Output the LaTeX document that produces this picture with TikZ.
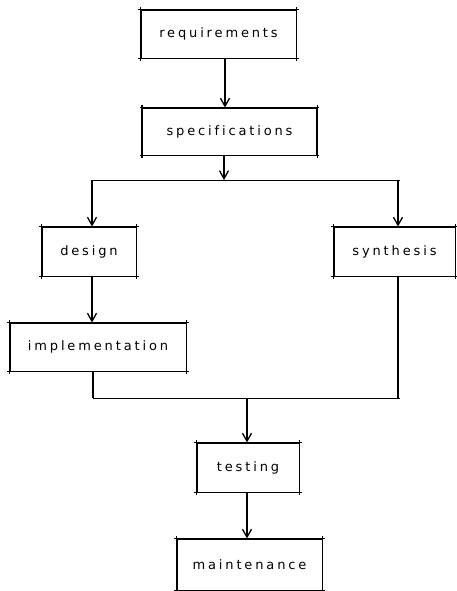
\documentclass[tikz,border=0pt]{standalone}
\usepackage{fontspec}
\newfontfamily\plotfont[LetterSpace=22,Ligatures=NoCommon]{DejaVu Sans}
\usetikzlibrary{arrows.meta}
\tikzset{
  stage/.style={draw, line width=0.9pt, inner sep=0pt, font=\plotfont\fontsize{13}{15}\selectfont},
  arr/.style={line width=1.3pt, -{Straight Barb[length=8pt,width=9pt,line width=1.3pt]}},
  link/.style={line width=1.2pt},
  bus/.style={line width=0.8pt}
}
\newcommand{\corners}[1]{%
  \draw[line width=0.8pt] ([xshift=-2.5pt]#1.north west) -- ([xshift=2.5pt]#1.north east);
  \draw[line width=0.8pt] ([xshift=-2.5pt]#1.south west) -- ([xshift=2.5pt]#1.south east);
  \draw[line width=1.3pt] ([yshift=2.5pt]#1.north west) -- ([yshift=-2.5pt]#1.south west);
  \draw[line width=0.8pt] ([yshift=2.5pt]#1.north east) -- ([yshift=-2.5pt]#1.south east);
}
\begin{document}
\begin{tikzpicture}[x=1pt,y=-1pt]
\useasboundingbox (0,0) rectangle (457,591);
\node[stage, minimum width=155pt, minimum height=48pt] (req) at (218.5,34) {requirements};
\node[stage, minimum width=174pt, minimum height=47pt] (spec) at (229.5,131.5) {specifications};
\node[stage, minimum width=94pt, minimum height=49pt] (des) at (89,251.5) {design};
\node[stage, minimum width=121pt, minimum height=49pt] (syn) at (394.5,251.5) {synthesis};
\node[stage, minimum width=176pt, minimum height=48pt] (imp) at (98,347) {implementation};
\node[stage, minimum width=102pt, minimum height=49pt] (tst) at (248,467.5) {testing};
\node[stage, minimum width=145pt, minimum height=51pt] (mnt) at (249.5,564.5) {maintenance};
\foreach \n in {req,spec,des,syn,imp,tst,mnt} {\corners{\n}}
\coordinate (jt) at (224,180);
\coordinate (jl) at (92,180);
\coordinate (jr) at (400,180);
\coordinate (jrs) at (398,180);
\coordinate (bl) at (93,398);
\coordinate (br) at (400,398);
\coordinate (bs) at (398,398);
\coordinate (bt) at (247,398);
\draw[arr] ([xshift=6.5pt]req.south) -- ([xshift=-4.5pt]spec.north);
\draw[arr] ([xshift=-5.5pt]spec.south) -- (jt);
\draw[bus] (jl) -- (jr);
\draw[arr] (jl) -- ([xshift=3pt]des.north);
\draw[arr] (jrs) -- ([xshift=3.5pt]syn.north);
\draw[arr] ([xshift=3pt]des.south) -- ([xshift=-6pt]imp.north);
\draw[link] ([xshift=-5pt]imp.south) -- (bl);
\draw[link] ([xshift=3.5pt]syn.south) -- (bs);
\draw[bus] (bl) -- (br);
\draw[arr] (bt) -- ([xshift=-1pt]tst.north);
\draw[arr] ([xshift=-1pt]tst.south) -- ([xshift=-2.5pt]mnt.north);
\end{tikzpicture}
\end{document}
